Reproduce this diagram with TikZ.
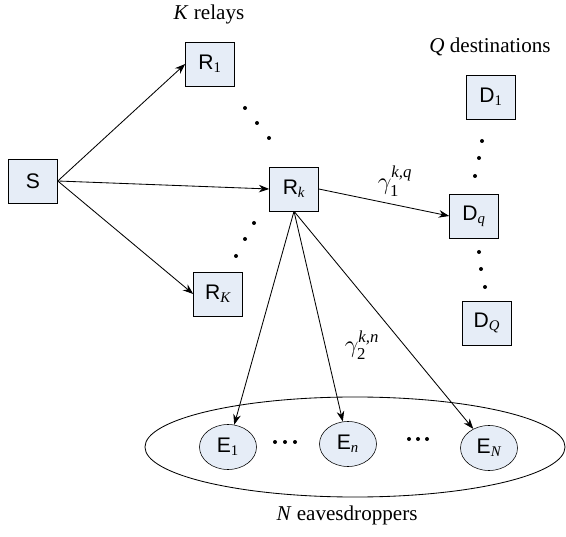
\documentclass[tikz,border=0pt]{standalone}
\usepackage{amsmath}
\usepackage{fontspec}
\setmainfont{Liberation Serif}
\setsansfont{Liberation Sans}
\usetikzlibrary{shapes.geometric, arrows.meta, positioning, calc}
\definecolor{nodefill}{RGB}{230,237,247}
\newcommand{\ssub}[1]{$_{\textrm{#1}}$}
\newcommand{\isub}[1]{$_{\textrm{\itshape #1}}$}

\begin{document}
\begin{tikzpicture}[
    x=0.025cm, y=-0.025cm,
    font=\fontsize{15}{18}\selectfont,
    box/.style={rectangle, draw, fill=nodefill, minimum width=1.225cm, minimum height=1.1cm, inner sep=0pt, font=\fontsize{15}{18}\selectfont\sffamily},
    evebox/.style={ellipse, draw, fill=nodefill, minimum width=1.425cm, minimum height=1.125cm, inner sep=0pt, font=\fontsize{15}{18}\selectfont\sffamily},
    arrow/.style={-{Stealth[length=2.6mm, width=1.9mm]}, line width=0.6pt},
    dot/.style={circle, fill, inner sep=0pt, minimum size=1mm}
]
\useasboundingbox (0,0) rectangle (566,537);

% Eavesdropper group
\node[ellipse, draw, line width=0.6pt, minimum width=10.5cm, minimum height=2.5cm] (group) at (355,447) {};

% Source and relays
\node[box] (src) at (33,181) {S};
\node[box] (r1) at (210,64) {R\ssub{1}};
\node[box] (rk) at (294,189) {R\isub{k}};
\node[box] (rK) at (218,294) {R\isub{K}};

% Destinations
\node[box] (d1) at (491,97) {D\ssub{1}};
\node[box] (dq) at (474,216) {D\isub{q}};
\node[box] (dQ) at (487,323) {D\isub{Q}};

% Eavesdroppers
\node[evebox] (e1) at (228,447) {E\ssub{1}};
\node[evebox] (en) at (348,444) {E\isub{n}};
\node[evebox] (eN) at (489,448) {E\isub{N}};

% Titles
\node (relays) at (209,14) {\textit{K} relays};
\node (dests) at (490,47) {\textit{Q} destinations};
\node (eaves) at (347,515) {\textit{N} eavesdroppers};

% Dots
\foreach \p in {(245,108),(257,123),(269,138),(254,223),(245,239),(236,256),
                (482,141),(479,158),(475,176),(479,252),(481,269),(485,287),
                (275,442),(285,442),(295,442),(409,439),(418,439),(427,439)}
    \node[dot] at \p {};

% Arrows from source
\draw[arrow] (src.east) -- (r1.west);
\draw[arrow] (src.east) -- (rk.west);
\draw[arrow] (src.east) -- (rK.west);

% Arrows from relay k
\draw[arrow] (rk.east) -- (dq.west);
\draw[arrow] (rk.south) -- (e1);
\draw[arrow] (rk.south) -- (en);
\draw[arrow] (rk.south) -- (eN);

% Channel labels
\node[font=\fontsize{17}{20}\selectfont] (g1) at (395,181) {$\gamma_{\textrm{1}}^{\textit{k,q}}$};
\node[font=\fontsize{17}{20}\selectfont] (g2) at (362,345) {$\gamma_{\textrm{2}}^{\textit{k,n}}$};

\end{tikzpicture}
\end{document}
